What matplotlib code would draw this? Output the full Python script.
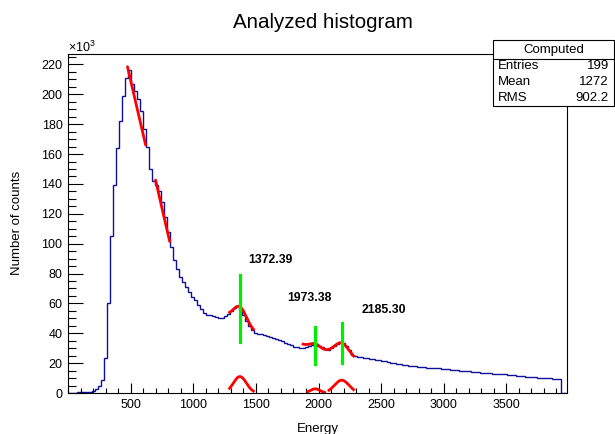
import numpy as np
import matplotlib
matplotlib.use("Agg")
import matplotlib.pyplot as plt
from matplotlib.patches import Rectangle
from matplotlib.lines import Line2D
from matplotlib.ticker import MultipleLocator

plt.rcParams["font.family"] = ["Liberation Sans", "DejaVu Sans"]
plt.rcParams["mathtext.fontset"] = "custom"
plt.rcParams["mathtext.rm"] = "Liberation Sans"

# ── data (counts in units of 10^3, bins of 24 keV from 0) ─────────────────
BIN_W = 24
counts = [
    0, 0, 0, 0.4, 0.5, 0.6, 0.8, 0.9, 1.5, 2.5,
    4.7, 8.7, 23.6, 60, 105, 139, 164, 182, 199, 211,
    216, 207, 202, 197, 189, 177, 165, 150, 142, 139,
    135, 128, 118, 108, 98, 89, 83, 78, 74, 71,
    67.5, 64.5, 62, 59, 56, 53.5, 52.5, 52, 51.5, 51,
    50.5, 50.5, 51.5, 53, 55, 57, 58, 56.5, 52.5, 48.5,
    45, 42, 40.5, 39.8, 39.2, 38.7, 38.2, 37.6, 36.8, 36.3,
    35.7, 34.8, 33.8, 33.0, 32.0, 31.0, 30.5, 30.0, 30.0, 30.6,
    31.5, 32.2, 32.4, 31.5, 30.6, 29.5, 29.0, 30.0, 31.6, 33.0,
    34.0, 33.5, 31.5, 28.5, 25.5, 24.5, 24.2, 24.0, 23.7, 23.4,
    23.0, 22.6, 22.3, 22.0, 21.6, 21.2, 20.8, 20.4, 20.0, 19.6,
    19.2, 18.9, 18.6, 18.3, 18.0, 17.8, 17.6, 17.4, 17.2, 17.0,
    16.9, 16.8, 16.6, 16.5, 16.3, 16.1, 15.8, 15.6, 15.4, 15.2,
    15.0, 14.8, 14.6, 14.4, 14.2, 14.0, 13.8, 13.6, 13.5, 13.3,
    13.2, 13.0, 12.9, 12.8, 12.7, 12.5, 12.3, 12.0, 11.8, 11.5,
    11.3, 11.1, 10.9, 10.7, 10.6, 10.5, 10.3, 10.1, 10.0, 9.9,
    9.8, 9.7, 9.6, 9.5, 0, 0,
]

# straight background fits on the falling edge (x, y)
slope_fits_x = [[475, 545, 620], [699, 755, 812]]
slope_fits_y = [[218.5, 193.0, 166.0], [142.6, 122.0, 101.5]]

# gaussian peak fits: mean, sigma, amplitude, fit range
peak_means = [1372.39, 1973.38, 2185.30]
peak_sigmas = [52, 38, 58]
peak_amps = [11.0, 2.8, 8.6]
peak_ranges = [(1290, 1480), (1915, 2050), (2084, 2280)]
# linear background under each fit group: (x0, y0, slope)
bg_single = (1372.39, 46.8, -0.05)
bg_double = (1973.38, 30.2, -0.025)
group_ranges = [(1290, 1480), (1877, 2280)]

# peak marker lines (bottom, top) and label anchors
marker_lo = [34.3, 19.4, 20.0]
marker_hi = [79.0, 44.0, 46.7]
label_x = [1443, 1754, 2344]
label_y = [89.0, 63.5, 55.6]

stats_names = ["Entries", "Mean", "RMS"]
stats_values = ["199", "1272", "902.2"]

W, H = 615, 434
fig = plt.figure(figsize=(W / 100, H / 100), dpi=100)
ax = fig.add_axes([68 / W, (H - 393) / H, (567 - 68) / W, (393 - 54) / H])

# ── histogram ─────────────────────────────────────────────────────────────
edges = np.arange(len(counts) + 1) * BIN_W
ax.stairs(counts, edges, baseline=0, color="#10109a", linewidth=1.0)

# ── fits ──────────────────────────────────────────────────────────────────
for fx, fy in zip(slope_fits_x, slope_fits_y):
    ax.plot(fx, fy, color="red", linewidth=2.0, solid_capstyle="round")


def gauss(x, i):
    return peak_amps[i] * np.exp(-0.5 * ((x - peak_means[i]) / peak_sigmas[i]) ** 2)


# single peak with background
x1 = np.linspace(*group_ranges[0], 200)
y1 = gauss(x1, 0) + bg_single[1] + bg_single[2] * (x1 - bg_single[0])
ax.plot(x1, y1, color="red", linewidth=2.0)

# double peak with background
x2 = np.linspace(*group_ranges[1], 300)
y2 = gauss(x2, 1) + gauss(x2, 2) + bg_double[1] + bg_double[2] * (x2 - bg_double[0])
ax.plot(x2, y2, color="red", linewidth=2.0)

# individual gaussians
for i, (lo, hi) in enumerate(peak_ranges):
    xg = np.linspace(lo, hi, 150)
    ax.plot(xg, gauss(xg, i), color="red", linewidth=2.0)

# ── peak markers + labels ─────────────────────────────────────────────────
for m, lo, hi in zip(peak_means, marker_lo, marker_hi):
    ax.plot([m, m], [lo, hi], color="#00ee00", linewidth=2.3)
for m, lx, ly in zip(peak_means, label_x, label_y):
    ax.text(lx, ly, f"{m:.2f}", fontsize=8.8, fontweight="bold",
            ha="left", va="center")

# ── axes ──────────────────────────────────────────────────────────────────
ax.set_xlim(0, 3984)
ax.set_ylim(0, 227)
ax.xaxis.set_major_locator(MultipleLocator(500))
ax.xaxis.set_minor_locator(MultipleLocator(100))
ax.yaxis.set_major_locator(MultipleLocator(20))
ax.yaxis.set_minor_locator(MultipleLocator(5))
ax.set_xticks([500, 1000, 1500, 2000, 2500, 3000, 3500])
ax.tick_params(which="both", direction="in", top=False, right=False,
               labelsize=9, width=0.8)
ax.tick_params(axis="x", which="major", length=7.2, pad=4)
ax.tick_params(axis="x", which="minor", length=3.6)
ax.tick_params(axis="y", which="major", length=11, pad=4)
ax.tick_params(axis="y", which="minor", length=5.5)
for sp in ax.spines.values():
    sp.set_linewidth(0.8)

fig.text(68 / W, 1 - 47 / H, r"$\times$10$^{3}$", fontsize=9,
         ha="left", va="center")
fig.text(318 / W, 1 - 429 / H, "Energy", fontsize=9.5,
         ha="center", va="center")
fig.text(17 / W, 1 - 223 / H, "Number of counts", fontsize=9.5,
         rotation=90, ha="center", va="center")
fig.text(323 / W, 1 - 22 / H, "Analyzed histogram", fontsize=14.8,
         ha="center", va="center")

# ── stats box ─────────────────────────────────────────────────────────────
bx0, bx1, by0, by1, bsep = 493, 614, 40, 106, 59
fig.patches.append(Rectangle((bx0 / W, 1 - by1 / H), (bx1 - bx0) / W,
                             (by1 - by0) / H, transform=fig.transFigure,
                             facecolor="white", edgecolor="black",
                             linewidth=0.8, zorder=5))
fig.lines.append(Line2D([bx0 / W, bx1 / W], [1 - bsep / H, 1 - bsep / H],
                        transform=fig.transFigure, color="black",
                        linewidth=0.8, zorder=6))
fig.text((bx0 + bx1) / 2 / W, 1 - 49.5 / H, "Computed", fontsize=9.5,
         ha="center", va="center", zorder=7)
for k, (name, val) in enumerate(zip(stats_names, stats_values)):
    yy = 1 - (66 + 16 * k) / H
    fig.text(498 / W, yy, name, fontsize=9.5, ha="left", va="center", zorder=7)
    fig.text(609 / W, yy, val, fontsize=9.5, ha="right", va="center", zorder=7)

fig.savefig("out.png", dpi=100)
